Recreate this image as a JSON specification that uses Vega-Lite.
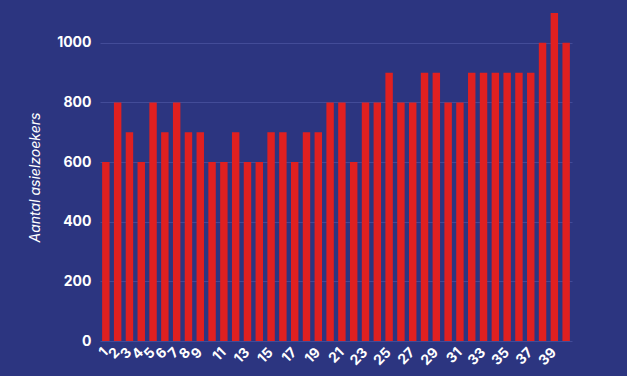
{
  "$schema": "https://vega.github.io/schema/vega-lite/v6.json",
  "autosize": "none",
  "padding": {"left": 100, "top": 13, "right": 55, "bottom": 35},
  "width": 472,
  "height": 328,
  "background": "#2c3580",
  "config": {
    "view": {"stroke": null},
    "font": "Inter"
  },
  "data": {
    "values": [
      {"week": 1, "aantal": 600}, {"week": 2, "aantal": 800}, {"week": 3, "aantal": 700},
      {"week": 4, "aantal": 600}, {"week": 5, "aantal": 800}, {"week": 6, "aantal": 700},
      {"week": 7, "aantal": 800}, {"week": 8, "aantal": 700}, {"week": 9, "aantal": 700},
      {"week": 10, "aantal": 600}, {"week": 11, "aantal": 600}, {"week": 12, "aantal": 700},
      {"week": 13, "aantal": 600}, {"week": 14, "aantal": 600}, {"week": 15, "aantal": 700},
      {"week": 16, "aantal": 700}, {"week": 17, "aantal": 600}, {"week": 18, "aantal": 700},
      {"week": 19, "aantal": 700}, {"week": 20, "aantal": 800}, {"week": 21, "aantal": 800},
      {"week": 22, "aantal": 600}, {"week": 23, "aantal": 800}, {"week": 24, "aantal": 800},
      {"week": 25, "aantal": 900}, {"week": 26, "aantal": 800}, {"week": 27, "aantal": 800},
      {"week": 28, "aantal": 900}, {"week": 29, "aantal": 900}, {"week": 30, "aantal": 800},
      {"week": 31, "aantal": 800}, {"week": 32, "aantal": 900}, {"week": 33, "aantal": 900},
      {"week": 34, "aantal": 900}, {"week": 35, "aantal": 900}, {"week": 36, "aantal": 900},
      {"week": 37, "aantal": 900}, {"week": 38, "aantal": 1000}, {"week": 39, "aantal": 1100},
      {"week": 40, "aantal": 1000}
    ]
  },
  "mark": {"type": "bar", "color": "#e02020"},
  "encoding": {
    "x": {
      "field": "week",
      "type": "ordinal",
      "scale": {"paddingInner": 0.37, "paddingOuter": 0.18},
      "axis": {
        "title": null,
        "domain": false,
        "ticks": false,
        "labelAngle": -45,
        "labelAlign": "right",
        "labelBaseline": "middle",
        "labelColor": "#ffffff",
        "labelFontWeight": "bold",
        "labelFontSize": 14,
        "labelPadding": 9,
        "labelOverlap": false,
        "labelExpr": "(datum.value <= 9 || datum.value % 2 == 1) ? datum.label : ''"
      }
    },
    "y": {
      "field": "aantal",
      "type": "quantitative",
      "scale": {"domain": [0, 1100], "nice": false},
      "axis": {
        "title": "Aantal asielzoekers",
        "titleColor": "#ffffff",
        "titleFontStyle": "italic",
        "titleFontWeight": "normal",
        "titleFontSize": 14,
        "titlePadding": 14,
        "values": [0, 200, 400, 600, 800, 1000],
        "format": "d",
        "domain": false,
        "ticks": false,
        "labelColor": "#ffffff",
        "labelFontWeight": "bold",
        "labelFontSize": 14,
        "labelPadding": 9,
        "gridColor": "#434c98",
        "gridWidth": 1
      }
    }
  }
}
